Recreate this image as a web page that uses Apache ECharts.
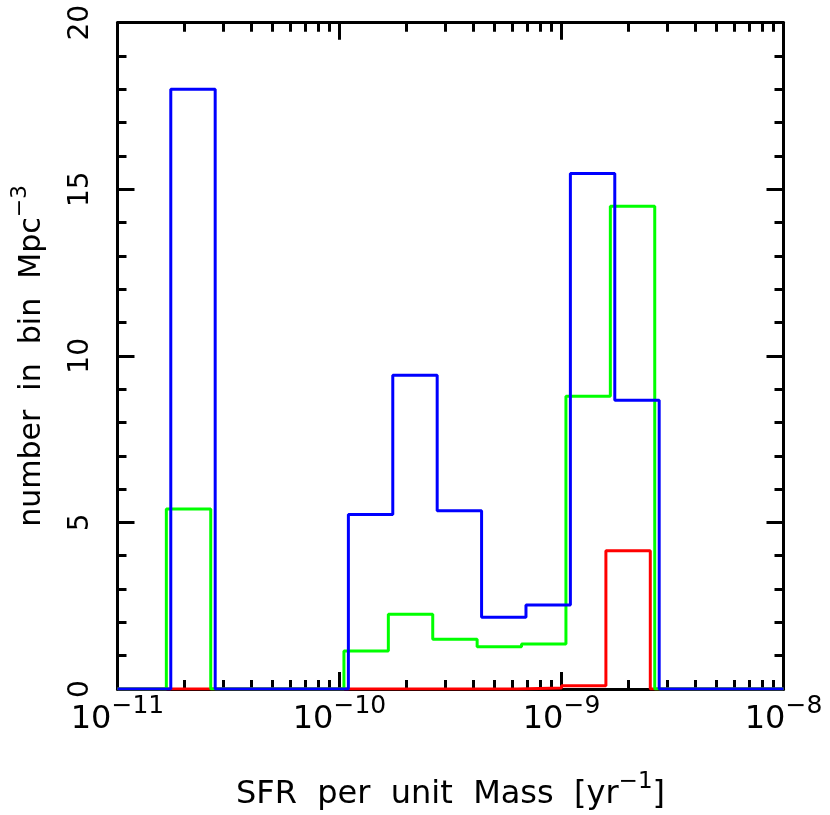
<!DOCTYPE html>
<html><head><meta charset="utf-8">
<script src="https://cdn.jsdelivr.net/npm/echarts@6/dist/echarts.min.js"></script>
<style>html,body{margin:0;padding:0;background:#fff}#c{width:830px;height:815px}</style>
</head><body><div id="c"></div>
<script>
// log10(SFR per unit mass) bin edges and counts per bin
const redEdges   = [-11.0,-10.8,-10.6,-10.4,-10.2,-10.0,-9.8,-9.6,-9.4,-9.2,-9.0,-8.8,-8.6,-8.4,-8.2,-8.0];
const redCounts  = [0,0,0,0,0,0,0,0,0,0.03,0.1,4.15,0,0,0];
const greenEdges = [-11.0,-10.98,-10.78,-10.58,-10.38,-10.18,-9.98,-9.78,-9.58,-9.38,-9.18,-8.98,-8.78,-8.58,-8.38,-8.18,-8.0];
const greenCounts= [0,0,5.4,0,0,0,1.14,2.24,1.49,1.27,1.35,8.79,14.49,0,0,0];
const blueEdges  = [-11.0,-10.96,-10.76,-10.56,-10.36,-10.16,-9.96,-9.76,-9.56,-9.36,-9.16,-8.96,-8.76,-8.56,-8.36,-8.16,-8.0];
const blueCounts = [0,0,18,0,0,0,5.24,9.42,5.35,2.15,2.52,15.47,8.67,0,0,0];
// axis ticks
const xDecades = [-11,-10,-9,-8];
const xMinorMultipliers = [2,3,4,5,6,7,8,9];
const yTicks = [0,5,10,15,20];

const FONT = 'DejaVu Sans';
function stepData(edges, counts){
  return edges.map((e,i)=>[e, counts[Math.min(i, counts.length-1)]]);
}
const minorVals = [];
xDecades.slice(0,3).forEach(d=>xMinorMultipliers.forEach(m=>minorVals.push(d+Math.log10(m))));

const grid = {left:117.5, top:22.7, width:666, height:666.3, containLabel:false, outerBoundsMode:'none'};
const axBase = {type:'value', min:-11, max:-8, interval:1, splitLine:{show:false}};
const blk = {color:'#000', width:3};
const supRich = (big, small, raise) => ({
  b:{fontSize:big, fontFamily:FONT, color:'#000', lineHeight:big, verticalAlign:'bottom'},
  s:{fontSize:small, fontFamily:FONT, color:'#000', lineHeight:small, verticalAlign:'bottom', padding:[0,0,raise,0]}
});
const chart = echarts.init(document.getElementById('c'));
chart.setOption({
  animation:false,
  backgroundColor:'#fff',
  grid: grid,
  xAxis:[
    Object.assign({}, axBase, {position:'bottom',
      axisLine:{show:true, lineStyle:blk},
      axisTick:{show:true, inside:true, length:17, lineStyle:blk},
      axisLabel:{show:true, margin:15, fontFamily:FONT, color:'#000',
        formatter:v=>'{b|10}{s|'+String(v).replace('-','−')+'}',
        rich:supRich(32, 25, 17)},
      name:'{b|SFR  per  unit  Mass  [yr}{s|−1}{b|]}', nameLocation:'middle', nameGap:90,
      nameTextStyle:{rich:supRich(32, 23, 17)}
    }),
    Object.assign({}, axBase, {position:'bottom',
      axisLine:{show:false},
      axisTick:{show:true, inside:true, length:9, lineStyle:blk, customValues:minorVals},
      axisLabel:{show:false}}),
    Object.assign({}, axBase, {position:'top',
      axisLine:{show:true, lineStyle:blk},
      axisTick:{show:true, inside:true, length:17, lineStyle:blk},
      axisLabel:{show:false}}),
    Object.assign({}, axBase, {position:'top',
      axisLine:{show:false},
      axisTick:{show:true, inside:true, length:9, lineStyle:blk, customValues:minorVals},
      axisLabel:{show:false}})
  ],
  yAxis:[
    {type:'value', position:'left', min:yTicks[0], max:yTicks[yTicks.length-1], interval:5, splitLine:{show:false},
      axisLine:{show:true, lineStyle:blk},
      axisTick:{show:true, inside:true, length:17, lineStyle:blk},
      minorTick:{show:true, splitNumber:5, length:9, lineStyle:blk},
      axisLabel:{show:true, rotate:90, margin:23, fontSize:28, fontFamily:FONT, color:'#000'},
      name:'{b|number  in  bin  Mpc}{s|−3}', nameLocation:'middle', nameGap:70, nameRotate:90,
      nameTextStyle:{rich:supRich(30, 22, 16)}
    },
    {type:'value', position:'right', min:yTicks[0], max:yTicks[yTicks.length-1], interval:5, splitLine:{show:false},
      axisLine:{show:true, lineStyle:blk},
      axisTick:{show:true, inside:true, length:17, lineStyle:blk},
      minorTick:{show:true, splitNumber:5, length:9, lineStyle:blk},
      axisLabel:{show:false}}
  ],
  series:[
    {type:'line', step:'end', data:stepData(redEdges, redCounts), showSymbol:false, symbol:'none', z:3,
      lineStyle:{color:'#ff0000', width:3}, itemStyle:{color:'#ff0000'}},
    {type:'line', step:'end', data:stepData(greenEdges, greenCounts), showSymbol:false, symbol:'none', z:4,
      lineStyle:{color:'#00ff00', width:3}, itemStyle:{color:'#00ff00'}},
    {type:'line', step:'end', data:stepData(blueEdges, blueCounts), showSymbol:false, symbol:'none', z:5,
      lineStyle:{color:'#0000ff', width:3}, itemStyle:{color:'#0000ff'}}
  ]
});
</script></body></html>
